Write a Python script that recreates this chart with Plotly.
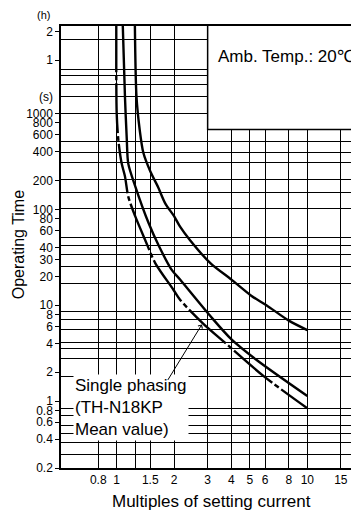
import math
import plotly.graph_objects as go

# ---- data ----
x_tick_vals = [0.8, 1, 1.5, 2, 3, 4, 5, 6, 8, 10, 15]
x_tick_text = ["0.8", "1", "1.5", "2", "3", "4", "5", "6", "8", "10", "15"]
x_grid_extra = [1.25]

y_tick_vals = [7200, 3600, 1000, 800, 600, 400, 200, 100, 80, 60, 40, 30, 20,
               10, 8, 6, 4, 2, 1, 0.8, 0.6, 0.4, 0.2]
y_tick_text = ["2", "1", "1000", "800", "600", "400", "200", "100", "80", "60",
               "40", "30", "20", "10", "8", "6", "4", "2", "1", "0.8", "0.6",
               "0.4", "0.2"]
y_grid_vals = [5900, 2900, 2500, 2000, 1500, 1000, 510, 390, 306, 204, 150, 101,
               51, 42, 34, 25.5, 17, 8.7, 7.1, 5.6, 4.06, 3.5, 2.77, 1.82,
               0.83, 0.71, 0.56, 0.46, 0.37, 0.28]

curve_a_x = [1.245, 1.27, 1.32, 1.38, 1.50, 1.65, 1.80, 2.0, 2.15, 2.42, 3.1, 4.0, 5.1, 6.1, 8.0, 10.0]
curve_a_y = [9000, 1500, 680, 390, 250, 170, 115, 85, 66, 48, 27.5, 18.5, 12.5, 10.0, 6.9, 5.5]

curve_b_x = [1.075, 1.105, 1.13, 1.15, 1.25, 1.47, 1.67, 1.94, 2.15, 3.1, 4.0, 5.4, 10.0]
curve_b_y = [9000, 1500, 530, 300, 175, 72, 41, 23.5, 18.5, 7.7, 4.4, 2.7, 1.13]

curve_c_x = [0.995, 1.0, 1.02, 1.06, 1.105, 1.15, 1.25, 1.41, 1.59, 1.98, 2.15, 2.85, 3.63, 5.9, 10.0]
curve_c_y = [9000, 1000, 530, 306, 221, 136, 85, 48, 27.7, 14.6, 11.4, 6.4, 4.2, 1.82, 0.84]

x_range = [-0.2922, 1.2712]
y_range = [math.log10(0.2), math.log10(8200)]
box_x0, box_y0 = 3, 680

FONT = "Liberation Sans, Arial, sans-serif"

fig = go.Figure()
line_style = dict(color="black", width=2.4, shape="spline", smoothing=0.8)
fig.add_trace(go.Scatter(x=curve_a_x, y=curve_a_y, mode="lines", line=line_style, showlegend=False))
fig.add_trace(go.Scatter(x=curve_b_x, y=curve_b_y, mode="lines", line=line_style, showlegend=False))
fig.add_trace(go.Scatter(x=curve_c_x, y=curve_c_y, mode="lines",
                         line=dict(line_style, dash="50px,3px,5px,3px"), showlegend=False))

grid_kw = dict(gridcolor="black", gridwidth=1.2)

# page body has an 8px default margin, so the figure is 8px smaller than the window
fig.update_layout(
    width=351, height=506,
    margin=dict(l=53, r=0, t=18, b=46),
    paper_bgcolor="white", plot_bgcolor="white",
    font=dict(family=FONT, color="black", size=12),
    xaxis=dict(type="log", range=x_range, tickmode="array", tickvals=x_tick_vals,
               ticktext=x_tick_text, showgrid=True, **grid_kw,
               minor=dict(tickvals=x_grid_extra, showgrid=True, ticks="", **grid_kw),
               showline=True, linecolor="black", linewidth=1.5, mirror=True,
               ticks="", zeroline=False, tickfont=dict(size=12)),
    yaxis=dict(type="log", range=y_range, tickmode="array", tickvals=y_tick_vals,
               ticktext=y_tick_text, showgrid=False,
               minor=dict(tickvals=y_grid_vals, showgrid=True, ticks="", **grid_kw),
               showline=True, linecolor="black", linewidth=1.5, mirror=False,
               ticks="outside", ticklen=4, tickcolor="black", zeroline=False,
               tickfont=dict(size=12)),
)

fig.add_shape(type="rect", xref="x", yref="y", x0=box_x0, x1=10 ** x_range[1] * 1.2,
              y0=box_y0, y1=10 ** y_range[1] * 1.2, fillcolor="white",
              line=dict(color="black", width=1.5), layer="above")

ann = [
    dict(text="Amb. Temp.: 20℃", xref="paper", yref="paper", x=0.755, y=0.930,
         xanchor="center", yanchor="middle", showarrow=False, font=dict(size=17)),
    dict(text="(h)", xref="paper", yref="paper", x=-0.0604, y=1.025,
         xanchor="center", yanchor="middle", showarrow=False, font=dict(size=11),
         borderpad=0),
    dict(text="(s)", xref="paper", yref="paper", x=-0.0503, y=0.8395,
         xanchor="center", yanchor="middle", showarrow=False, font=dict(size=12)),
    dict(text="Single phasing<br>(TH-N18KP<br>Mean value)", xref="paper", yref="paper",
         x=0.0403, y=0.1363, xanchor="left", yanchor="middle", align="left",
         showarrow=False, bgcolor="white", borderpad=1, font=dict(size=17)),
    dict(text="", xref="x", yref="y", x=math.log10(2.80), y=math.log10(6.3),
         ax=-35, ay=57, showarrow=True, arrowhead=4, arrowsize=1, arrowwidth=1,
         arrowcolor="black"),
    dict(text="Operating Time", xref="paper", yref="paper", x=-0.1426, y=0.505,
         xanchor="center", yanchor="middle", textangle=-90, showarrow=False,
         font=dict(size=16), borderpad=0),
    dict(text="Multiples of setting current", xref="paper", yref="paper", x=0.5057,
         y=-0.0755, xanchor="center", yanchor="middle", showarrow=False,
         font=dict(size=17)),
]
fig.update_layout(annotations=ann)

fig.write_html("out.html")
